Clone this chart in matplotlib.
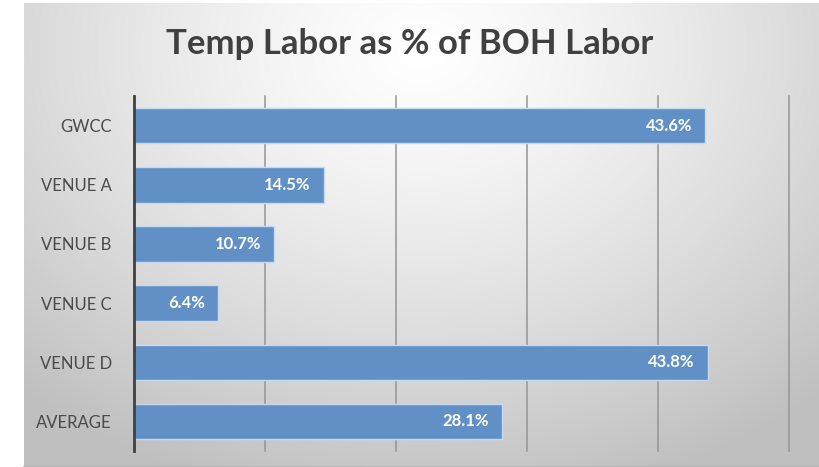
import matplotlib.pyplot as plt
import numpy as np

categories = ["GWCC", "VENUE A", "VENUE B", "VENUE C", "VENUE D", "AVERAGE"]
values = [43.6, 14.5, 10.7, 6.4, 43.8, 28.1]
labels = ["43.6%", "14.5%", "10.7%", "6.4%", "43.8%", "28.1%"]

plt.rcParams['font.family'] = ['Lato', 'DejaVu Sans']

fig = plt.figure(figsize=(8.2, 4.67), dpi=100)
W, H = 820, 467

# gradient background of the chart area
bg = fig.add_axes([24 / W, 0, 1 - 24 / W, 1 - 3 / H], zorder=0)
yy, xx = np.mgrid[0:1:200j, 0:1:300j]
r = np.sqrt(((xx - 0.5) / 0.75) ** 2 + ((yy - 0.1) / 1.0) ** 2)
shade = 1.0 - 0.25 * np.clip(r, 0, 1) ** 1.3
bg.imshow(np.dstack([shade] * 3), aspect='auto', extent=[0, 1, 1, 0])
bg.axis('off')
bg.plot([0, 1], [0, 0], color='#b4b4b4', lw=2, transform=bg.transAxes, clip_on=False)

ax = fig.add_axes([134 / W, 16 / H, 655 / W, 355 / H], zorder=1)
ax.patch.set_alpha(0)
y = np.arange(len(categories))
ax.barh(y, values, height=0.6, color='#6190c7', edgecolor='#c6d9f0', linewidth=1, zorder=3)
for yi, v, lab in zip(y, values, labels):
    ax.text(v - 1.0, yi, lab, ha='right', va='center', color='white',
            fontsize=12, fontweight='bold', zorder=4)

ax.set_xlim(0, 50)
ax.set_ylim(5.5, -0.5)
ax.set_xticks(np.arange(10, 51, 10))
ax.set_xticklabels([])
ax.tick_params(axis='x', length=0)
ax.tick_params(axis='y', length=0, pad=16, labelsize=12, labelcolor='#4a4a4a')
ax.set_yticks(y)
ax.set_yticklabels(categories)
ax.grid(axis='x', color='#959595', lw=1.1, zorder=1)
for line in ax.get_xgridlines():
    line.set_clip_on(False)
for s in ['top', 'right', 'bottom']:
    ax.spines[s].set_visible(False)
ax.spines['left'].set_color('#404040')
ax.spines['left'].set_linewidth(2)
ax.spines['left'].set_zorder(5)

fig.text(410 / W, 1 - 44 / H, "Temp Labor as % of BOH Labor", ha='center', va='center',
         fontsize=25, fontweight='bold', color='#404040')

fig.savefig("out.png", dpi=100)
